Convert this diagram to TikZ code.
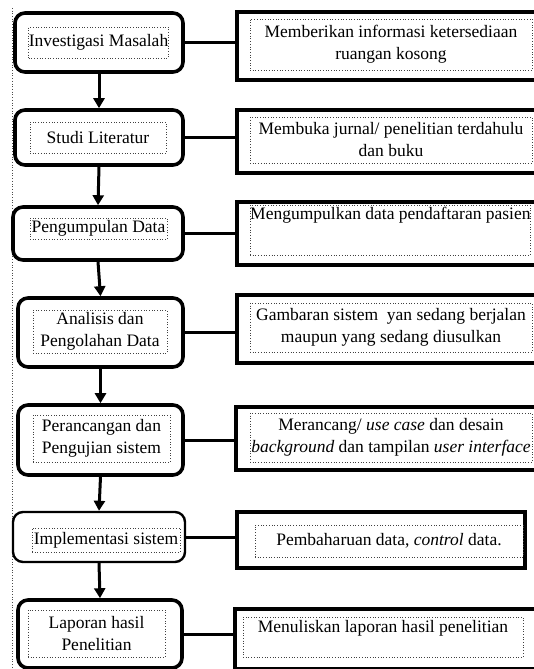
\documentclass[tikz,border=0pt]{standalone}
\usepackage{fontspec}
\setmainfont{Liberation Serif}
\usetikzlibrary{arrows.meta}
\begin{document}
\begin{tikzpicture}[x=1pt,y=1pt,
  font=\fontsize{17.5}{22}\selectfont,
  lbox/.style={draw, line width=3.6pt, rounded corners=10pt, minimum width=168pt, inner sep=0pt},
  rbox/.style={draw, line width=3.8pt, minimum width=295pt, inner sep=0pt},
  dbox/.style={draw=black!75, dotted, line width=0.7pt, inner sep=0pt, align=center},
  flow/.style={-{Triangle[length=10pt,width=11pt]}, line width=3pt},
  link/.style={line width=3pt}]
\useasboundingbox (0,0) rectangle (534,-669);
\draw[black!70, dotted, line width=0.7pt] (12,-8) -- (12,-669);
% left outer boxes
\node[lbox, minimum height=59pt] (L1) at (99,-42.5) {};
\node[lbox, minimum height=55pt] (L2) at (99,-137.5) {};
\node[lbox, minimum height=53pt, minimum width=170pt] (L3) at (98,-233.5) {};
\node[lbox, minimum height=69pt, minimum width=165pt] (L4) at (100.5,-332.5) {};
\node[lbox, minimum height=70pt, minimum width=165pt] (L5) at (100.5,-440) {};
\node[lbox, line width=2.4pt, minimum height=50pt, minimum width=172pt] (L6) at (99,-537) {};
\node[lbox, minimum height=68pt, minimum width=164pt] (L7) at (100,-634) {};
% left inner boxes
\node[dbox, minimum width=137pt, minimum height=31pt] (l1) at (98.5,-42.5) {Investigasi Masalah};
\node[dbox, minimum width=136pt, minimum height=31pt] (l2) at (98,-137.5) {Studi Literatur};
\node[dbox, minimum width=137pt, minimum height=21pt] (l3) at (98.5,-228.5) {Pengumpulan Data};
\node[dbox, minimum width=134pt, minimum height=43pt] (l4) at (100,-331.5) {Analisis dan\\Pengolahan Data};
\node[dbox, minimum width=137pt, minimum height=47pt] (l5) at (101.5,-438.5) {Perancangan dan\\Pengujian sistem};
\node[dbox, minimum width=148pt, minimum height=24pt] (l6) at (106,-540) {Implementasi sistem};
\node[dbox, minimum width=137pt, minimum height=47pt] (l7) at (96.5,-633.5) {Laporan hasil\\Penelitian};
% right outer boxes
\node[rbox, minimum height=68pt, minimum width=300pt] (R1) at (387,-46) {};
\node[rbox, minimum height=63pt, minimum width=300pt] (R2) at (387,-141.5) {};
\node[rbox, minimum height=63pt, minimum width=300pt] (R3) at (387,-233.5) {};
\node[rbox, minimum height=68pt, minimum width=300pt] (R4) at (387,-329) {};
\node[rbox, minimum height=63pt, minimum width=300pt] (R5) at (386,-438.5) {};
\node[rbox, minimum height=56pt, minimum width=288pt] (R6) at (381,-540) {};
\node[rbox, minimum height=60pt, minimum width=302pt] (R7) at (386,-639) {};
% right inner boxes
\node[dbox, minimum width=282pt, minimum height=51pt] (r1) at (391,-44.5) {Memberikan informasi ketersediaan\\ruangan kosong};
\node[dbox, minimum width=282pt, minimum height=46pt] (r2) at (391,-140) {Membuka jurnal/ penelitian terdahulu\\dan buku};
\node[dbox, minimum width=280pt, minimum height=50pt] (r3) at (390,-230) {};
\node[anchor=north west, inner sep=0pt] (t3) at (250,-207) {Mengumpulkan data pendaftaran pasien};
\node[dbox, minimum width=282pt, minimum height=49pt] (r4) at (391,-327.5) {Gambaran sistem\ \ yan sedang berjalan\\maupun yang sedang diusulkan};
\node[dbox, minimum width=282pt, minimum height=49pt] (r5) at (391,-437.5) {Merancang/ \textit{use case} dan desain\\\textit{background} dan tampilan \textit{user interface}};
\node[dbox, minimum width=268pt, minimum height=32pt] (r6) at (389,-541) {Pembaharuan data, \textit{control} data.};
\node[dbox, minimum width=280pt, minimum height=40pt] (r7) at (383,-637) {};
\node[inner sep=0pt] (t7) at (383,-628) {Menuliskan laporan hasil penelitian};
% flow arrows
\draw[flow] (L1.south) -- (L2.north);
\draw[flow] (L2.south) -- (L3.north);
\draw[flow] (L3.south) -- (L4.north);
\draw[flow] (L4.south) -- (L5.north);
\draw[flow] (L5.south) -- (L6.north);
\draw[flow] (L6.south) -- (L7.north);
% links
\draw[link] (L1.east) -- (L1.east -| R1.west);
\draw[link] (L2.east) -- (L2.east -| R2.west);
\draw[link] (L3.east) -- (L3.east -| R3.west);
\draw[link] (L4.east) -- (L4.east -| R4.west);
\draw[link] (L5.east) -- (L5.east -| R5.west);
\draw[link] (L6.east) -- (L6.east -| R6.west);
\draw[link] (L7.east) -- (L7.east -| R7.west);
\end{tikzpicture}
\end{document}
